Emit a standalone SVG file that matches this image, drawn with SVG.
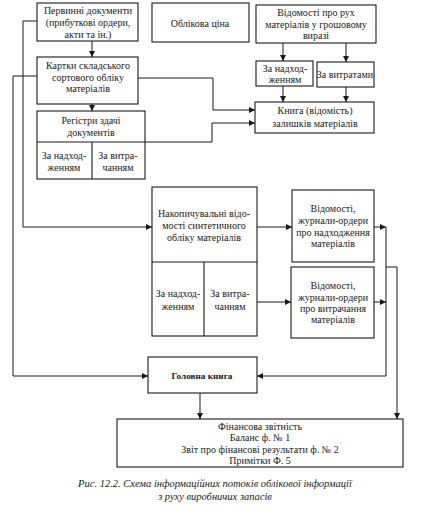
<svg xmlns="http://www.w3.org/2000/svg" width="421" height="516" viewBox="0 0 421 516" font-family="'Liberation Serif', 'Times New Roman', serif">
<defs>
<marker id="ah" viewBox="0 0 10 10" refX="10" refY="5" markerWidth="8" markerHeight="6" markerUnits="userSpaceOnUse" orient="auto">
<path d="M0,0 L10,5 L0,10 z" fill="#1a1a1a"/>
</marker>
<style>
rect{fill:#fff;stroke:#1a1a1a;stroke-width:1.1}
line.d{stroke:#1a1a1a;stroke-width:1.1}
.c path{fill:none;stroke:#1a1a1a;stroke-width:1}
text{font-family:'Liberation Serif','Times New Roman',serif;font-size:10px;fill:#1a1a1a;text-anchor:middle}
.b{font-weight:bold;font-size:9.2px}
.cap{font-style:italic;font-size:10.5px}
</style>
</defs>
<rect x="0" y="0" width="421" height="516" style="fill:#fff;stroke:none"/>

<g id="n-pervynni">
<rect x="37" y="3" width="101" height="38"/>
<text x="88" y="14">Первинні документи</text>
<text x="88" y="26">(прибуткові ордери,</text>
<text x="88" y="38">акти та ін.)</text>
</g>

<g id="n-oblikova">
<rect x="152" y="3" width="97" height="39"/>
<text x="200" y="27">Облікова ціна</text>
</g>

<g id="n-vidomosti-rukh">
<rect x="256" y="5" width="120" height="38"/>
<text x="316" y="16">Відомості про рух</text>
<text x="316" y="28">матеріалів у грошовому</text>
<text x="316" y="39">виразі</text>
</g>

<g id="n-kartky">
<rect x="37" y="57" width="101" height="47"/>
<text x="88" y="69">Картки складського</text>
<text x="88" y="81">сортового обліку</text>
<text x="88" y="92">матеріалів</text>
</g>

<g id="n-registry">
<rect x="37" y="111" width="108" height="68"/>
<line class="d" x1="37" y1="142" x2="145" y2="142"/>
<line class="d" x1="92" y1="142" x2="92" y2="179"/>
<text x="91" y="124">Регістри здачі</text>
<text x="91" y="136">документів</text>
<text x="64" y="159">За надход-</text>
<text x="64" y="171">женням</text>
<text x="118" y="159">За витра-</text>
<text x="118" y="171">чанням</text>
</g>

<g id="n-za-nadkh-top">
<rect x="256" y="61" width="57" height="25"/>
<text x="285" y="72">За надход-</text>
<text x="285" y="83">женням</text>
</g>

<g id="n-za-vytr-top">
<rect x="317" y="62" width="57" height="25"/>
<text x="345" y="78">За витратами</text>
</g>

<g id="n-knyga">
<rect x="255" y="102" width="119" height="31"/>
<text x="315" y="114">Книга (відомість)</text>
<text x="315" y="127">залишків матеріалів</text>
</g>

<g id="n-nakopychuvalni">
<rect x="152" y="187" width="105" height="149"/>
<line class="d" x1="152" y1="262" x2="257" y2="262"/>
<line class="d" x1="204" y1="262" x2="204" y2="336"/>
<text x="204" y="217">Накопичувальні відо-</text>
<text x="204" y="229">мості синтетичного</text>
<text x="204" y="241">обліку матеріалів</text>
<text x="178" y="297">За надход-</text>
<text x="178" y="310">женням</text>
<text x="230" y="297">За витра-</text>
<text x="230" y="310">чанням</text>
</g>

<g id="n-zhurnaly-nadkh">
<rect x="292" y="190" width="82" height="72"/>
<text x="333" y="212">Відомості,</text>
<text x="333" y="224">журнали-ордери</text>
<text x="333" y="236">про надходження</text>
<text x="333" y="247">матеріалів</text>
</g>

<g id="n-zhurnaly-vytr">
<rect x="291" y="267" width="83" height="71"/>
<text x="333" y="289">Відомості,</text>
<text x="333" y="301">журнали-ордери</text>
<text x="333" y="312">про витрачання</text>
<text x="333" y="323">матеріалів</text>
</g>

<g id="n-golovna">
<rect x="148" y="357" width="109" height="36"/>
<text class="b" x="202" y="379">Головна книга</text>
</g>

<g id="n-finansova">
<rect x="117" y="419" width="286" height="48"/>
<text x="260" y="430">Фінансова звітність</text>
<text x="260" y="441">Баланс ф. № 1</text>
<text x="260" y="453">Звіт про фінансові результати ф. № 2</text>
<text x="260" y="464">Примітки Ф. 5</text>
</g>

<g class="c" id="connectors">
<path d="M92,41 V57" marker-end="url(#ah)"/>
<path d="M92,104 V111" marker-end="url(#ah)"/>
<path d="M37,21 H23 V227 H152" marker-end="url(#ah)"/>
<path d="M37,76 H13 V376 H148" marker-end="url(#ah)"/>
<path d="M138,78 H213 V110 H255" marker-end="url(#ah)"/>
<path d="M145,142 H212 V123 H255" marker-end="url(#ah)"/>
<path d="M283,43 V61" marker-end="url(#ah)"/>
<path d="M346,43 V62" marker-end="url(#ah)"/>
<path d="M283,86 V102" marker-end="url(#ah)"/>
<path d="M346,87 V102" marker-end="url(#ah)"/>
<path d="M257,227 H292" marker-end="url(#ah)"/>
<path d="M257,302 H291" marker-end="url(#ah)"/>
<path d="M374,227 H386" marker-end="url(#ah)"/>
<path d="M374,302 H386" marker-end="url(#ah)"/>
<path d="M386,227 V376 H257" marker-end="url(#ah)"/>
<path d="M386,267 H397 V419" marker-end="url(#ah)"/>
<path d="M200,393 V419" marker-end="url(#ah)"/>
</g>

<text class="cap" x="215" y="487">Рис. 12.2. Схема інформаційних потоків облікової інформації</text>
<text class="cap" x="215" y="500">з руху виробничих запасів</text>
</svg>
